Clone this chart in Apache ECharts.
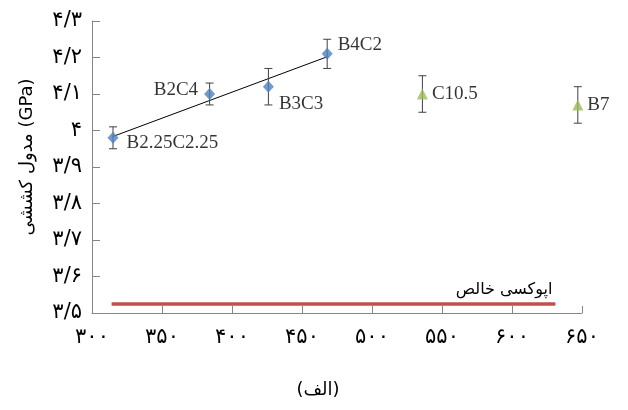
<!DOCTYPE html>
<html><head><meta charset="utf-8">
<script src="https://cdn.jsdelivr.net/npm/echarts@6/dist/echarts.min.js"></script>
<style>html,body{margin:0;padding:0;background:#fff}#c{width:628px;height:410px}</style>
</head><body><div id="c"></div>
<script>
const hybridNames = ['B2.25C2.25', 'B2C4', 'B3C3', 'B4C2'];
const hybridX = [315, 384, 426, 468];
const hybridY = [3.98, 4.10, 4.12, 4.21];
const hybridErr = [0.03, 0.03, 0.05, 0.04];
const singleNames = ['C10.5', 'B7'];
const singleX = [536, 647];
const singleY = [4.10, 4.07];
const singleErr = [0.05, 0.05];
const epoxyName = 'اپوکسی خالص';
const epoxyX = [314, 631];
const epoxyY = [3.525, 3.525];
const xTicks = [300, 350, 400, 450, 500, 550, 600, 650];
const yTicks = [3.5, 3.6, 3.7, 3.8, 3.9, 4.0, 4.1, 4.2, 4.3];
const yTitle = 'مدول کششی (GPa)';
const xTitle = '(الف)';

const faDigits = '۰۱۲۳۴۵۶۷۸۹';
function toFa(s) { return String(s).replace(/[0-9]/g, d => faDigits[+d]).replace('.', '/'); }

// linear trendline (least squares) of hybrid series, like Excel
const n = hybridX.length;
const mx = hybridX.reduce((a, b) => a + b, 0) / n;
const my = hybridY.reduce((a, b) => a + b, 0) / n;
let sxx = 0, sxy = 0;
for (let i = 0; i < n; i++) { sxx += (hybridX[i] - mx) ** 2; sxy += (hybridX[i] - mx) * (hybridY[i] - my); }
const slope = sxy / sxx, icpt = my - slope * mx;
const xs = [Math.min(...hybridX), Math.max(...hybridX)];
const trend = xs.map(x => [x, icpt + slope * x]);

const errData = hybridX.map((x, i) => [x, hybridY[i] - hybridErr[i], hybridY[i] + hybridErr[i]])
  .concat(singleX.map((x, i) => [x, singleY[i] - singleErr[i], singleY[i] + singleErr[i]]));

const hybridLabelCfg = [
  { position: 'right', offset: [3, 5] },
  { position: 'left', offset: [-1, -4] },
  { position: 'right', offset: [0, 17] },
  { position: 'right', offset: [0, -9] }
];
const serif = 'Liberation Serif';
const fa = 'DejaVu Sans';
const axisColor = '#868686';

const chart = echarts.init(document.getElementById('c'), null, { renderer: 'canvas' });
chart.setOption({
  animation: false,
  grid: { left: 92, right: 46, top: 21, bottom: 97 },
  xAxis: {
    type: 'value', min: 300, max: 650, interval: 50,
    axisLine: { show: true, lineStyle: { color: axisColor, width: 1 } },
    axisTick: { show: true, inside: true, length: 7, lineStyle: { color: axisColor } },
    splitLine: { show: false },
    axisLabel: { margin: 14, fontFamily: fa, fontSize: 21, color: '#000', formatter: v => toFa(v) },
    name: xTitle, nameLocation: 'middle', nameGap: 68,
    nameTextStyle: { fontFamily: fa, fontSize: 18, color: '#000', padding: [0, 38, 0, 0] }
  },
  yAxis: {
    type: 'value', min: 3.5, max: 4.3, interval: 0.1,
    axisLine: { show: true, lineStyle: { color: axisColor, width: 1 } },
    axisTick: { show: true, inside: true, length: 8, lineStyle: { color: axisColor } },
    splitLine: { show: false },
    axisLabel: { margin: 10, fontFamily: fa, fontSize: 21, color: '#000',
      formatter: v => toFa(Math.round(v * 10) / 10) },
    name: yTitle, nameLocation: 'middle', nameGap: 56, nameRotate: 90,
    nameTextStyle: { fontFamily: fa, fontSize: 18, color: '#000', padding: [0, 0, 0, 20] }
  },
  series: [
    {
      type: 'line', data: epoxyX.map((x, i) => i === 1 ? {
        value: [x, epoxyY[i]], symbol: 'circle', symbolSize: 0.1,
        label: { show: true, formatter: epoxyName, position: 'top', align: 'right',
          offset: [-3, -1], fontFamily: fa, fontSize: 16, color: '#000' }
      } : { value: [x, epoxyY[i]], symbolSize: 0.1 }),
      showSymbol: true, symbol: 'circle', symbolSize: 0.1,
      itemStyle: { color: 'rgba(0,0,0,0)' },
      lineStyle: { color: '#c0504d', width: 3.5 }, silent: true, z: 2
    },
    {
      type: 'line', data: trend, symbol: 'none', lineStyle: { color: '#000', width: 1 }, silent: true, z: 2
    },
    {
      type: 'custom', data: errData, z: 3, silent: true,
      renderItem: function (params, api) {
        const x = api.value(0);
        const lo = api.coord([x, api.value(1)]);
        const hi = api.coord([x, api.value(2)]);
        const w = 4;
        const st = { stroke: '#404040', lineWidth: 1 };
        return { type: 'group', children: [
          { type: 'line', shape: { x1: lo[0], y1: lo[1], x2: hi[0], y2: hi[1] }, style: st },
          { type: 'line', shape: { x1: lo[0] - w, y1: lo[1], x2: lo[0] + w, y2: lo[1] }, style: st },
          { type: 'line', shape: { x1: hi[0] - w, y1: hi[1], x2: hi[0] + w, y2: hi[1] }, style: st }
        ] };
      }
    },
    {
      type: 'scatter', symbol: 'diamond', symbolSize: [11, 12], z: 4,
      itemStyle: { color: '#4f81bd' },
      data: hybridX.map((x, i) => ({
        value: [x, hybridY[i]], name: hybridNames[i],
        label: Object.assign({ show: true, formatter: '{b}', distance: 5,
          fontFamily: serif, fontSize: 19, color: '#000' }, hybridLabelCfg[i])
      }))
    },
    {
      type: 'scatter', symbol: 'triangle', symbolSize: [11, 11], z: 4,
      itemStyle: { color: '#9bbb59' },
      data: singleX.map((x, i) => ({
        value: [x, singleY[i]], name: singleNames[i],
        label: { show: true, formatter: '{b}', position: 'right', distance: 4, offset: [0, 0],
          fontFamily: serif, fontSize: 19, color: '#000' }
      }))
    }
  ]
});
</script></body></html>
